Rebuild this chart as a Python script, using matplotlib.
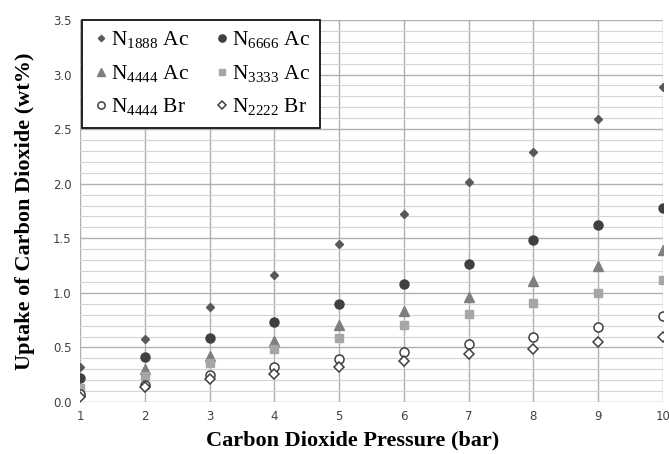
import numpy as np
import matplotlib.pyplot as plt
from matplotlib.ticker import MultipleLocator, FormatStrFormatter

plt.rcParams['mathtext.fontset'] = 'custom'
plt.rcParams['mathtext.rm'] = 'Liberation Serif'

pressure = [1, 2, 3, 4, 5, 6, 7, 8, 9, 10]

n1888_ac = [0.32, 0.58, 0.87, 1.16, 1.45, 1.72, 2.015, 2.29, 2.59, 2.89]
n6666_ac = [0.22, 0.415, 0.59, 0.73, 0.90, 1.08, 1.26, 1.48, 1.62, 1.78]
n4444_ac = [0.10, 0.30, 0.42, 0.56, 0.71, 0.83, 0.965, 1.11, 1.25, 1.39]
n3333_ac = [0.125, 0.24, 0.355, 0.485, 0.59, 0.705, 0.805, 0.907, 1.00, 1.12]
n4444_br = [0.07, 0.16, 0.245, 0.32, 0.39, 0.46, 0.53, 0.60, 0.69, 0.79]
n2222_br = [0.05, 0.135, 0.21, 0.26, 0.32, 0.375, 0.437, 0.49, 0.547, 0.60]

fig = plt.figure(figsize=(6.69, 4.54), dpi=100)
ax = fig.add_axes([0.1196, 0.1145, 0.8714, 0.8415])

h1, = ax.plot(pressure, n1888_ac, 'D', ms=4, color='#595959', mec='#595959', label=r'N$_{1888}$ Ac')
h2, = ax.plot(pressure, n6666_ac, 'o', ms=6.5, color='#404040', mec='#404040', label=r'N$_{6666}$ Ac')
h3, = ax.plot(pressure, n4444_ac, '^', ms=6.5, color='#7f7f7f', mec='#7f7f7f', label=r'N$_{4444}$ Ac')
h4, = ax.plot(pressure, n3333_ac, 's', ms=6, color='#a6a6a6', mec='#a6a6a6', label=r'N$_{3333}$ Ac')
h5, = ax.plot(pressure, n4444_br, 'o', ms=6.5, mfc='white', mec='#404040', mew=1.1, label=r'N$_{4444}$ Br')
h6, = ax.plot(pressure, n2222_br, 'D', ms=5, mfc='white', mec='#404040', mew=1.1, label=r'N$_{2222}$ Br')

ax.set_xlim(1, 10)
ax.set_ylim(0, 3.5)
ax.set_xticks(pressure)
ax.yaxis.set_major_locator(MultipleLocator(0.5))
ax.yaxis.set_minor_locator(MultipleLocator(0.1))
ax.yaxis.set_major_formatter(FormatStrFormatter('%.1f'))

ax.grid(which='major', color='#b0b0b0', lw=1.0)
ax.grid(which='minor', axis='y', color='#d4d4d4', lw=0.8)
ax.set_axisbelow(True)
for s in ax.spines.values():
    s.set_visible(False)
ax.tick_params(which='both', length=0, labelsize=8.5, labelcolor='#404040', pad=6)

ax.set_xlabel('Carbon Dioxide Pressure (bar)', fontsize=16, fontweight='bold',
              family='Liberation Serif')
ax.xaxis.set_label_coords(0.467, -0.075)
ax.set_ylabel('Uptake of Carbon Dioxide (wt%)', fontsize=16, fontweight='bold',
              family='Liberation Serif')
ax.yaxis.set_label_coords(-0.078, 0.5)

# row-wise order like the original legend
handles = [h1, h3, h5, h2, h4, h6]
leg = ax.legend(handles=handles, labels=[h.get_label() for h in handles],
                ncol=2, loc='upper left', bbox_to_anchor=(0.003, 1.0), borderaxespad=0,
                prop={'family': 'Liberation Serif', 'size': 15.5},
                frameon=True, fancybox=False, edgecolor='black', framealpha=1,
                handletextpad=0.0, columnspacing=1.1, labelspacing=0.55,
                borderpad=0.45, handlelength=0.9, markerscale=0.8)
leg.get_frame().set_linewidth(1.2)

fig.savefig('out.png', dpi=100)
